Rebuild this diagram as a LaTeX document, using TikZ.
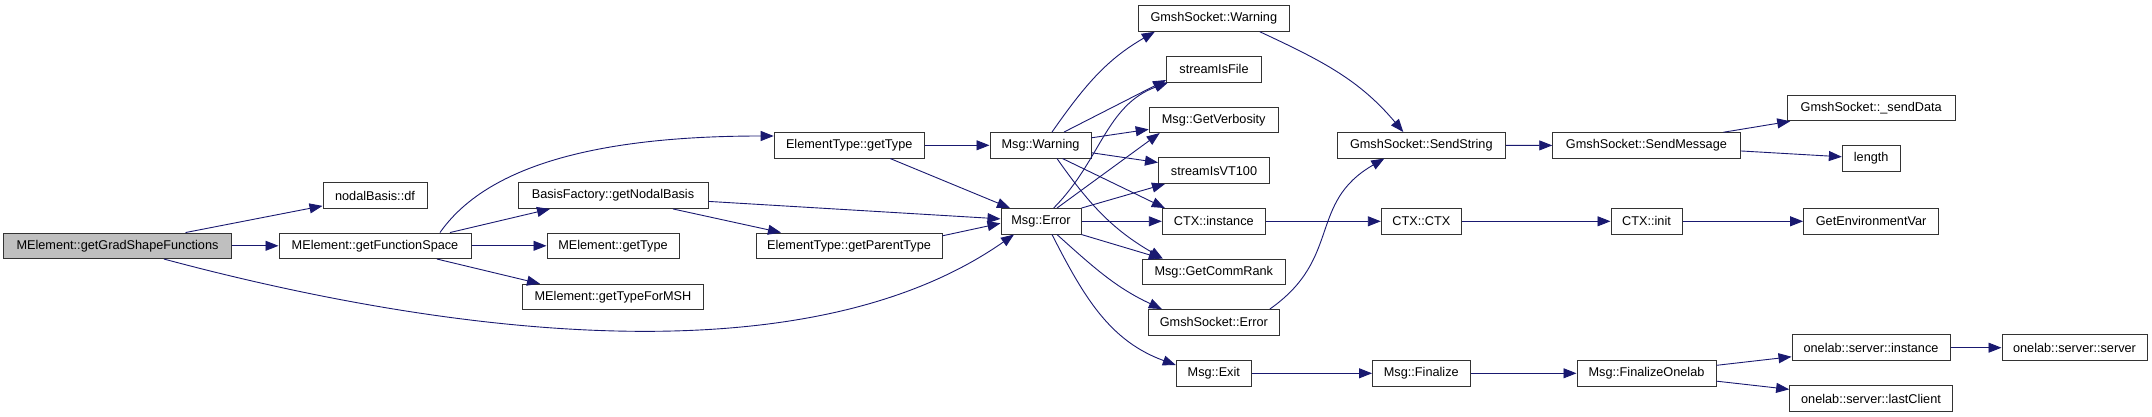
\documentclass[tikz,border=0pt]{standalone}
\usepackage{fontspec}
\setmainfont{Liberation Sans}
\usetikzlibrary{arrows.meta}
\definecolor{callblue}{RGB}{25,25,112}
\definecolor{rootgray}{RGB}{191,191,191}

\begin{document}
\begin{tikzpicture}[
    x=1pt, y=1pt,
    fn/.style={draw=black!80, line width=1pt, minimum height=25.5pt, inner sep=0pt, font=\fontsize{12.7}{15}\selectfont, fill=white},
    call/.style={-{Triangle[length=13pt,width=10pt]}, callblue, line width=0.9pt}
]
\useasboundingbox (0,0) rectangle (2152,-417);

\node[fn, fill=rootgray, minimum width=228pt] (grad) at (117.5,-245.8) {MElement::getGradShapeFunctions};
\node[fn, minimum width=104pt] (df) at (375,-195.7) {nodalBasis::df};
\node[fn, minimum width=192pt] (fspace) at (375,-245.8) {MElement::getFunctionSpace};
\node[fn, minimum width=150pt] (etype) at (849.2,-145.3) {ElementType::getType};
\node[fn, minimum width=190pt] (nodal) at (613,-195.7) {BasisFactory::getNodalBasis};
\node[fn, minimum width=132pt] (mtype) at (613,-245.8) {MElement::getType};
\node[fn, minimum width=181pt] (msh) at (613,-297) {MElement::getTypeForMSH};
\node[fn, minimum width=186pt] (parent) at (849,-245.8) {ElementType::getParentType};
\node[fn, minimum width=101pt] (warn) at (1040.5,-145.3) {Msg::Warning};
\node[fn, minimum width=80pt] (err) at (1041,-221.3) {Msg::Error};
\node[fn, minimum width=151pt] (gswarn) at (1213.8,-18.5) {GmshSocket::Warning};
\node[fn, minimum width=95pt] (isfile) at (1214,-69.3) {streamIsFile};
\node[fn, minimum width=129pt] (verb) at (1213.7,-119.8) {Msg::GetVerbosity};
\node[fn, minimum width=111pt] (vt) at (1214,-170.7) {streamIsVT100};
\node[fn, minimum width=103pt] (ctxinst) at (1213.8,-221.3) {CTX::instance};
\node[fn, minimum width=143pt] (rank) at (1213.8,-271.8) {Msg::GetCommRank};
\node[fn, minimum width=131pt] (gserr) at (1213.8,-322.3) {GmshSocket::Error};
\node[fn, minimum width=75pt] (exit) at (1213.8,-373.3) {Msg::Exit};
\node[fn, minimum width=168pt] (sendstr) at (1421.3,-145.3) {GmshSocket::SendString};
\node[fn, minimum width=80pt] (ctx) at (1421.3,-221.3) {CTX::CTX};
\node[fn, minimum width=97.5pt] (fin) at (1421.3,-373.3) {Msg::Finalize};
\node[fn, minimum width=187.3pt] (sendmsg) at (1646.4,-145.5) {GmshSocket::SendMessage};
\node[fn, minimum width=71pt] (init) at (1646.5,-221.3) {CTX::init};
\node[fn, minimum width=139pt] (finol) at (1646.5,-373.3) {Msg::FinalizeOnelab};
\node[fn, minimum width=167.7pt] (senddata) at (1871.2,-108) {GmshSocket::\_sendData};
\node[fn, minimum width=57.7pt] (len) at (1871.2,-158.5) {length};
\node[fn, minimum width=135pt] (env) at (1871.1,-221.3) {GetEnvironmentVar};
\node[fn, minimum width=158pt] (srvinst) at (1871,-347.7) {onelab::server::instance};
\node[fn, minimum width=162.7pt] (lastcl) at (1871,-398.5) {onelab::server::lastClient};
\node[fn, minimum width=145pt] (server) at (2074.5,-347.7) {onelab::server::server};

\draw[call] (grad) -- (df);
\draw[call] (grad) -- (fspace);
\draw[call] ([xshift=46.5pt]grad.south) .. controls +(-15:280) and +(215:260) .. ([xshift=-27pt]err.south);
\draw[call] ([xshift=65pt]fspace.north) .. controls +(55:80) and +(-180,0) .. ([yshift=9.3pt]etype.west);
\draw[call] ([xshift=75pt]fspace.north) -- ([xshift=-63pt]nodal.south);
\draw[call] (fspace) -- (mtype);
\draw[call] ([xshift=62pt]fspace.south) -- ([xshift=-73pt]msh.north);
\draw[call] (etype) -- (warn);
\draw[call] ([xshift=41pt]etype.south) -- ([xshift=-31pt]err.north);
\draw[call] (nodal) -- (err);
\draw[call] ([xshift=60pt]nodal.south) -- ([xshift=-68pt]parent.north);
\draw[call] ([yshift=10pt]parent.east) -- ([yshift=-2pt]err.west);
\draw[call] ([xshift=11.5pt]warn.north) to[out=55,in=210] ([xshift=-59pt]gswarn.south);
\draw[call] ([xshift=23.5pt]warn.north) -- ([yshift=-10.7pt]isfile.west);
\draw[call] (warn) -- (verb);
\draw[call] (warn) -- (vt);
\draw[call] ([xshift=22pt]warn.south) -- ([xshift=-49pt]ctxinst.north);
\draw[call] ([xshift=16.5pt]warn.south) to[out=-55,in=150] ([xshift=-51pt]rank.north);
\draw[call] ([xshift=12.6pt]err.north) to[out=45,in=200] ([xshift=-46pt]isfile.south);
\draw[call] ([xshift=16pt]err.north) -- ([xshift=-54pt]verb.south);
\draw[call] (err.north east) -- ([xshift=-49pt]vt.south);
\draw[call] (err) -- (ctxinst);
\draw[call] (err.south east) -- ([xshift=-52pt]rank.north);
\draw[call] ([xshift=16pt]err.south) to[out=-42,in=155] ([xshift=-52pt]gserr.north);
\draw[call] ([xshift=11pt]err.south) to[out=-63,in=160] ([yshift=8.3pt]exit.west);
\draw[call] ([xshift=46pt]gswarn.south) to[out=-25,in=130] ([xshift=-18pt]sendstr.north);
\draw[call] ([xshift=56pt]gserr.north) to[out=35,in=210,looseness=1.2] ([xshift=-37pt]sendstr.south);
\draw[call] (sendstr) -- (sendmsg);
\draw[call] ([xshift=77pt]sendmsg.north) -- ([xshift=-81pt]senddata.south);
\draw[call] (sendmsg) -- (len);
\draw[call] (ctxinst) -- (ctx);
\draw[call] (ctx) -- (init);
\draw[call] (init) -- (env);
\draw[call] (exit) -- (fin);
\draw[call] (fin) -- (finol);
\draw[call] (finol) -- (srvinst);
\draw[call] (finol) -- (lastcl);
\draw[call] (srvinst) -- (server);
\end{tikzpicture}
\end{document}
